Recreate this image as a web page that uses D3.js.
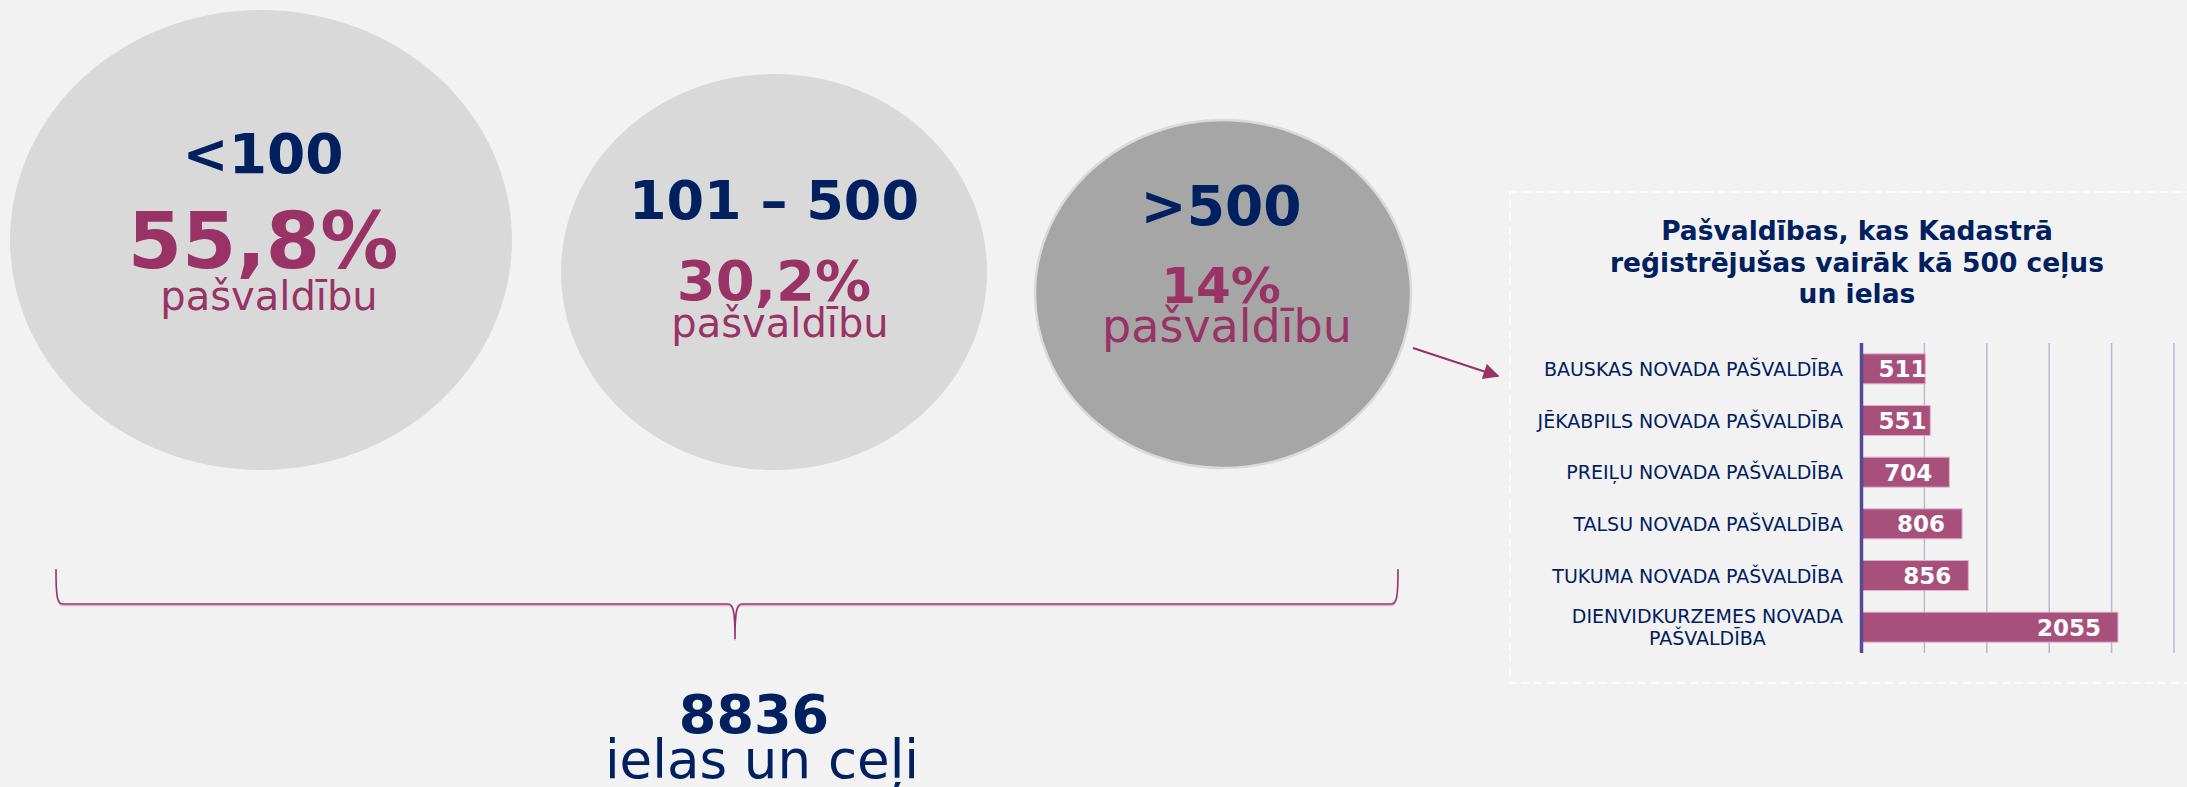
<!DOCTYPE html>
<html lang="lv">
<head>
<meta charset="UTF-8">
<title>Ielas un ceļi</title>
<script src="https://cdn.jsdelivr.net/npm/d3@7"></script>
<style>
    html, body { margin: 0; padding: 0; background: #f2f2f2; }
    svg { display: block; font-family: "DejaVu Sans", Verdana, sans-serif; }
</style>
</head>
<body>
<div id="chart"></div>
<script>
    // groups of municipalities by number of registered streets and roads
    const groupLabels = ["<100", "101 – 500", ">500"];
    const groupShares = ["55,8%", "30,2%", "14%"];
    const shareWord = "pašvaldību";
    const totalRoads = "8836";
    const totalWord = "ielas un ceļi";

    // bar chart: municipalities with more than 500 roads
    const chartTitle = ["Pašvaldības, kas Kadastrā", "reģistrējušas vairāk kā 500 ceļus", "un ielas"];
    const munis = [
        "BAUSKAS NOVADA PAŠVALDĪBA",
        "JĒKABPILS NOVADA PAŠVALDĪBA",
        "PREIĻU NOVADA PAŠVALDĪBA",
        "TALSU NOVADA PAŠVALDĪBA",
        "TUKUMA NOVADA PAŠVALDĪBA",
        "DIENVIDKURZEMES NOVADA PAŠVALDĪBA"
    ];
    const roads = [511, 551, 704, 806, 856, 2055];
    const xTicks = [0, 500, 1000, 1500, 2000, 2500];

    const navy = "#002060";
    const plum = "#993366";

    const W = 2187, H = 787;
    const svg = d3.select("#chart").append("svg")
        .attr("width", W).attr("height", H);

    svg.append("rect").attr("width", W).attr("height", H).attr("fill", "#f2f2f2");

    // bubbles (layout only)
    const bubbles = [
        { cx: 261, cy: 240, rx: 251, ry: 230, fill: "#d9d9d9", stroke: "none",
          yLab: 173, sLab: 55, yPct: 268, sPct: 78, yWord: 310, sWord: 40, dx: 2 },
        { cx: 774, cy: 272, rx: 213, ry: 198, fill: "#d9d9d9", stroke: "none",
          yLab: 219, sLab: 54, yPct: 300, sPct: 56, yWord: 337, sWord: 40, dx: 0 },
        { cx: 1223, cy: 294, rx: 188, ry: 174, fill: "#a6a6a6", stroke: "#dadada",
          yLab: 225, sLab: 55, yPct: 303, sPct: 50, yWord: 342, sWord: 46, dx: -2 }
    ];

    const g = svg.selectAll("g.bubble").data(bubbles).enter()
        .append("g").attr("class", "bubble");

    g.append("ellipse")
        .attr("cx", d => d.cx).attr("cy", d => d.cy)
        .attr("rx", d => d.rx).attr("ry", d => d.ry)
        .attr("fill", d => d.fill)
        .attr("stroke", d => d.stroke).attr("stroke-width", 2.5);

    g.append("text")
        .attr("x", d => d.cx + d.dx).attr("y", d => d.yLab)
        .attr("text-anchor", "middle").attr("font-weight", "bold")
        .attr("font-size", d => d.sLab).attr("fill", navy)
        .text((d, i) => groupLabels[i]);

    g.append("text")
        .attr("x", d => d.cx + d.dx).attr("y", d => d.yPct)
        .attr("text-anchor", "middle").attr("font-weight", "bold")
        .attr("font-size", d => d.sPct).attr("fill", plum)
        .text((d, i) => groupShares[i]);

    g.append("text")
        .attr("x", d => d.cx + d.dx + 6).attr("y", d => d.yWord)
        .attr("text-anchor", "middle")
        .attr("font-size", d => d.sWord).attr("fill", plum)
        .text(shareWord);

    // curly bracket under the bubbles
    const bracket = "M56,569 C56,596 57,604 63,604 L728,604 C733,604 735,609 735,639 " +
                    "C735,609 737,604 742,604 L1391,604 C1397,604 1398,596 1398,569";
    svg.append("path").attr("d", bracket).attr("transform", "translate(0,1.5)")
        .attr("fill", "none").attr("stroke", "#dcb3c7").attr("stroke-width", 1.5);
    svg.append("path").attr("d", bracket)
        .attr("fill", "none").attr("stroke", plum).attr("stroke-width", 1.5);

    svg.append("text").attr("x", 754).attr("y", 733)
        .attr("text-anchor", "middle").attr("font-weight", "bold")
        .attr("font-size", 54).attr("fill", navy).text(totalRoads);
    svg.append("text").attr("x", 762).attr("y", 778)
        .attr("text-anchor", "middle")
        .attr("font-size", 53).attr("fill", navy).text(totalWord);

    // arrow to the chart
    svg.append("defs").append("marker")
        .attr("id", "head").attr("markerUnits", "userSpaceOnUse")
        .attr("viewBox", "0 0 10 10").attr("refX", 9).attr("refY", 5)
        .attr("markerWidth", 18).attr("markerHeight", 16).attr("orient", "auto")
        .append("path").attr("d", "M0,0 L10,5 L0,10 Z").attr("fill", plum);
    svg.append("line")
        .attr("x1", 1413).attr("y1", 348).attr("x2", 1498).attr("y2", 376)
        .attr("stroke", plum).attr("stroke-width", 2.2)
        .attr("marker-end", "url(#head)");

    // chart frame
    svg.append("rect")
        .attr("x", 1510).attr("y", 192).attr("width", 700).attr("height", 491)
        .attr("fill", "none").attr("stroke", "#ffffff")
        .attr("stroke-width", 1.5).attr("stroke-dasharray", "8 5");

    svg.append("g").selectAll("text").data(chartTitle).enter()
        .append("text")
        .attr("x", 1857).attr("y", (d, i) => 240 + i * 31.5)
        .attr("text-anchor", "middle").attr("font-weight", "bold")
        .attr("font-size", 26.5).attr("fill", navy)
        .text(d => d);

    const plotTop = 343, plotBottom = 653;
    const x = d3.scaleLinear().domain([0, 2500]).range([1861.5, 2173.5]);
    const y = d3.scaleBand().domain(munis).range([plotTop, plotBottom])
        .paddingInner(0.42).paddingOuter(0.21);

    // gridlines
    const grid = svg.append("g")
        .attr("transform", `translate(0,${plotBottom})`)
        .call(d3.axisBottom(x).tickValues(xTicks.slice(1))
            .tickSize(-(plotBottom - plotTop)).tickFormat(""));
    grid.select(".domain").remove();
    grid.selectAll(".tick line").attr("stroke", "#b9b8cc").attr("stroke-width", 1.5);

    // bars
    svg.append("g").selectAll("rect").data(roads).enter()
        .append("rect")
        .attr("x", x(0))
        .attr("y", (d, i) => y(munis[i]))
        .attr("width", d => x(d) - x(0))
        .attr("height", y.bandwidth())
        .attr("fill", "#a6507b")
        .attr("stroke", "#dfb0c8").attr("stroke-width", 1);

    // category axis line
    svg.append("line")
        .attr("x1", x(0)).attr("x2", x(0)).attr("y1", plotTop).attr("y2", plotBottom)
        .attr("stroke", "#57499a").attr("stroke-width", 3.5);

    // category labels
    const labels = svg.append("g");
    munis.forEach((m, i) => {
        const cy = y(m) + y.bandwidth() / 2;
        const t = labels.append("text")
            .attr("font-size", 19).attr("fill", navy);
        if (i < munis.length - 1) {
            t.attr("x", 1843).attr("y", cy + 7).attr("text-anchor", "end").text(m);
        } else {
            const parts = ["DIENVIDKURZEMES NOVADA", "PAŠVALDĪBA"];
            t.attr("text-anchor", "middle");
            const first = t.append("tspan").attr("y", cy - 4).text(parts[0]);
            const w = first.node().getComputedTextLength();
            const mid = 1843 - w / 2;
            first.attr("x", mid);
            t.append("tspan").attr("x", mid).attr("y", cy + 18).text(parts[1]);
        }
    });

    // value labels
    svg.append("g").selectAll("text").data(roads).enter()
        .append("text")
        .attr("y", (d, i) => y(munis[i]) + y.bandwidth() / 2 + 8.5)
        .attr("text-anchor", "end").attr("font-weight", "bold")
        .attr("font-size", 23).attr("fill", "#ffffff")
        .text(d => d)
        .attr("x", function (d) {
            const w = this.getComputedTextLength();
            return Math.max(x(d) - 17, x(0) + 17 + w);
        });
</script>
</body>
</html>
